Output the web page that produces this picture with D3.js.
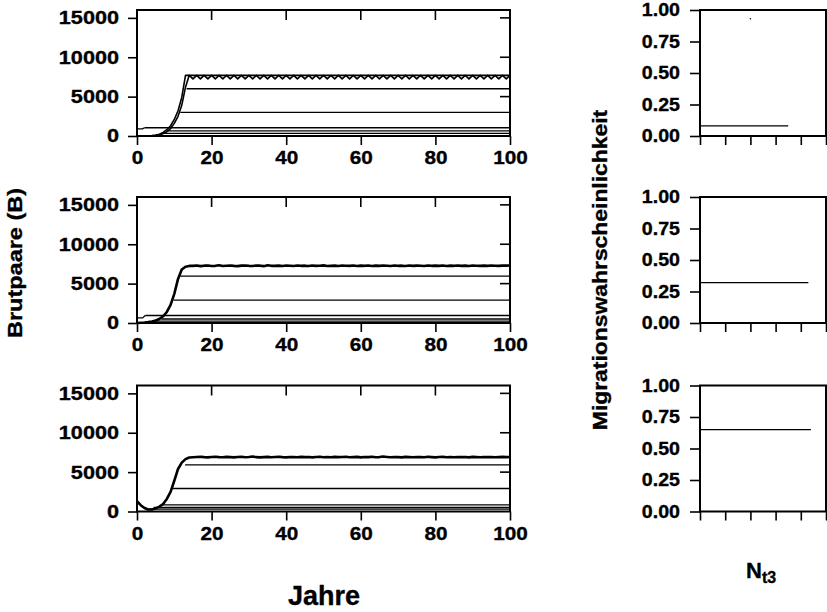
<!DOCTYPE html>
<html>
<head>
<meta charset="utf-8">
<script src="https://cdnjs.cloudflare.com/ajax/libs/d3/7.8.5/d3.min.js"></script>
<style>
  body { margin: 0; background: #fff; }
  svg text { font-family: "Liberation Sans", Arial, sans-serif; font-weight: bold; fill: #000; stroke: #000; stroke-width: 0.35px; }
</style>
</head>
<body>
<div class="chart"></div>
<script>
const width = 827;
const height = 612;

// ---- data ----
const yearTicks = [0, 20, 40, 60, 80, 100];
const brutTicks = [0, 5000, 10000, 15000];
const probTicks = [0, 0.25, 0.5, 0.75, 1];
const nTicks = [0, 1, 2, 3, 4, 5];

// panel 1: two traces of the total, one flat, one oscillating every year
const p1RiseA = [0, 0, 10, 30, 60, 120, 230, 450, 800, 1300, 2100, 3200, 4900, 7700]; // years 0..13
const p1FlatA = [7700, 7700]; // years 13 and 100
const p1RiseB = [0, 0, 0, 10, 30, 60, 150, 300, 550, 950, 1600, 2500, 3900, 6200]; // years 0..13
const p1Zigzag = [7700, 7250, 7700, 7250, 7700, 7250, 7700, 7250, 7700, 7250,
  7700, 7250, 7700, 7250, 7700, 7250, 7700, 7250, 7700, 7250,
  7700, 7250, 7700, 7250, 7700, 7250, 7700, 7250, 7700, 7250,
  7700, 7250, 7700, 7250, 7700, 7250, 7700, 7250, 7700, 7250,
  7700, 7250, 7700, 7250, 7700, 7250, 7700, 7250, 7700, 7250,
  7700, 7250, 7700, 7250, 7700, 7250, 7700, 7250, 7700, 7250,
  7700, 7250, 7700, 7250, 7700, 7250, 7700, 7250, 7700, 7250,
  7700, 7250, 7700, 7250, 7700, 7250, 7700, 7250, 7700, 7250,
  7700, 7250, 7700, 7250, 7700, 7250, 7700]; // years 14..100
const p1Levels = [6000, 3000, 1050, 650, 330];
const p1LevelFrom = [13.3, 11.6, 2, 8.2, 6.8];
const p1StartYears = [0, 1.5, 2];
const p1StartVals = [900, 900, 1050];

// panel 2
const p2Rise = [0, 30, 60, 120, 200, 320, 500, 850, 1400, 2300, 3700, 5600, 6800, 7150, 7250]; // years 0..14
const p2Wiggle = [7250, 7300, 7220, 7280, 7310, 7240, 7260, 7330, 7230, 7270,
  7300, 7250, 7220, 7290, 7310, 7260, 7240, 7300, 7280, 7220,
  7330, 7260, 7250, 7290, 7230, 7300, 7270, 7240, 7310, 7260,
  7280, 7230, 7300, 7250, 7270, 7320, 7240, 7260, 7290, 7230,
  7300, 7270, 7250, 7310, 7240, 7280, 7260, 7300, 7230, 7290,
  7250, 7310, 7270, 7240, 7300, 7260, 7280, 7230, 7300, 7250,
  7290, 7270, 7240, 7310, 7260, 7280, 7250, 7300, 7240, 7290,
  7260, 7310, 7250, 7280, 7240, 7300, 7270, 7260, 7290, 7250,
  7300, 7270, 7260, 7290, 7280, 7300]; // years 15..100
const p2Levels = [5950, 2900, 950, 510, 250];
const p2LevelFrom = [11.6, 9.8, 2.2, 6.5, 4.5];
const p2StartYears = [0, 1.5, 2.2];
const p2StartVals = [650, 650, 950];

// panel 3
const p3Rise = [1300, 800, 450, 250, 250, 400, 620, 950, 1600, 2500, 3900, 5400, 6200, 6650, 6850]; // years 0..14
const p3Wiggle = [6880, 6920, 6950, 6900, 6870, 6930, 6960, 6910, 6880, 6940,
  6900, 6870, 6930, 6960, 6890, 6920, 6980, 6900, 6870, 6910,
  6940, 6880, 6920, 6950, 6900, 6870, 6930, 6910, 6880, 6940,
  6900, 6920, 6870, 6930, 6950, 6890, 6910, 6880, 6940, 6900,
  6920, 6960, 6880, 6910, 6940, 6870, 6920, 6900, 6950, 6890,
  6910, 6990, 6930, 6880, 6920, 6900, 6870, 6940, 6910, 6890,
  6930, 6900, 6880, 6950, 6910, 6870, 6920, 6940, 6890, 6910,
  6880, 6930, 6900, 6920, 6870, 6940, 6910, 6890, 6930, 6900,
  6920, 6880, 6910, 6940, 6900, 6920]; // years 15..100
const p3Levels = [5930, 2920, 850, 510, 300];
const p3LevelFrom = [12.9, 9.5, 6.5, 4.5, 3.2];

// right column: migration probability vs N_t3
const migProb = [0.08, 0.32, 0.65];
const migUntil = [3.5, 4.3, 4.4];
const strayDot = [2, 0.93];

// ---- helpers ----
const toPts = (vals, start) => vals.map((v, i) => [start + i, v]);

const svg = d3.select(".chart").append("svg")
  .attr("width", width).attr("height", height);

const rows = [{ top: 10, bottom: 136 }, { top: 197, bottom: 323 }, { top: 385.5, bottom: 511.5 }];
const x = d3.scaleLinear().domain([0, 100]).range([137, 510]);
const xN = d3.scaleLinear().domain([0, 5]).range([700, 826]);

function stretch(sel, k) {
  // widen the tick labels like the original lettering
  sel.selectAll("text").each(function () {
    const t = d3.select(this);
    t.attr("x", (+t.attr("x") || 0) / k).attr("transform", `scale(${k},1)`);
  });
}

function styleAxis(g) {
  g.select(".domain").remove();
  g.selectAll(".tick line").attr("stroke", "#000").attr("stroke-width", 1.6);
  g.selectAll(".tick text").attr("font-size", 18.5).attr("font-family", null);
}

const seriesList = [
  {
    thick: [],
    thin2: [
      toPts(p1RiseA, 0).concat([[13, p1FlatA[0]], [100, p1FlatA[1]]]),
      toPts(p1RiseB, 0).concat(toPts(p1Zigzag, 14))
    ],
    levels: p1Levels, from: p1LevelFrom,
    start: p1StartYears.map((yr, i) => [yr, p1StartVals[i]])
  },
  {
    thick: [toPts(p2Rise, 0).concat(toPts(p2Wiggle, 15))],
    thin2: [],
    levels: p2Levels, from: p2LevelFrom,
    start: p2StartYears.map((yr, i) => [yr, p2StartVals[i]])
  },
  {
    thick: [toPts(p3Rise, 0).concat(toPts(p3Wiggle, 15))],
    thin2: [],
    levels: p3Levels, from: p3LevelFrom,
    start: null
  }
];

rows.forEach((r, i) => {
  const y = d3.scaleLinear().domain([0, 16000]).range([r.bottom, r.top]);
  const g = svg.append("g");
  const line = d3.line().x(d => x(d[0])).y(d => y(d[1]));
  const s = seriesList[i];

  // horizontal levels
  s.levels.forEach((lv, j) => {
    g.append("path").attr("d", line([[s.from[j], lv], [100, lv]]))
      .attr("fill", "none").attr("stroke", "#000").attr("stroke-width", 1.3);
  });
  if (s.start) {
    g.append("path").attr("d", line(s.start))
      .attr("fill", "none").attr("stroke", "#000").attr("stroke-width", 1.3);
  }
  s.thin2.forEach(pts => {
    g.append("path").attr("d", line(pts))
      .attr("fill", "none").attr("stroke", "#000").attr("stroke-width", 1.6)
      .attr("stroke-linejoin", "round");
  });
  s.thick.forEach(pts => {
    g.append("path").attr("d", line(pts))
      .attr("fill", "none").attr("stroke", "#000").attr("stroke-width", 2.6)
      .attr("stroke-linejoin", "round");
  });

  // frame
  g.append("rect").attr("x", x(0)).attr("y", r.top)
    .attr("width", x(100) - x(0)).attr("height", r.bottom - r.top)
    .attr("fill", "none").attr("stroke", "#000").attr("stroke-width", 2);

  // inside ticks on top and right
  yearTicks.slice(1, -1).forEach(t => {
    g.append("line").attr("x1", x(t)).attr("x2", x(t)).attr("y1", r.top).attr("y2", r.top + 10)
      .attr("stroke", "#000").attr("stroke-width", 1.6);
  });
  brutTicks.slice(1).forEach(t => {
    g.append("line").attr("x1", x(100) - 10).attr("x2", x(100)).attr("y1", y(t)).attr("y2", y(t))
      .attr("stroke", "#000").attr("stroke-width", 1.6);
  });

  const ax = g.append("g").attr("transform", `translate(0,${r.bottom})`)
    .call(d3.axisBottom(x).tickValues(yearTicks).tickSize(9).tickPadding(6).tickSizeOuter(0));
  styleAxis(ax);
  stretch(ax, 1.12);

  const ay = g.append("g").attr("transform", `translate(${x(0)},0)`)
    .call(d3.axisLeft(y).tickValues(brutTicks).tickSize(9).tickPadding(9)
      .tickFormat(d3.format("d")).tickSizeOuter(0));
  styleAxis(ay);
  stretch(ay, 1.17);

  // right column
  const yp = d3.scaleLinear().domain([0, 1]).range([r.bottom, r.top]);
  const gr = svg.append("g");
  gr.append("path")
    .attr("d", d3.line().x(d => xN(d[0])).y(d => yp(d[1]))([[0, migProb[i]], [migUntil[i], migProb[i]]]))
    .attr("fill", "none").attr("stroke", "#000").attr("stroke-width", 1.3);
  if (i === 0) {
    gr.append("circle").attr("cx", xN(strayDot[0])).attr("cy", yp(strayDot[1])).attr("r", 0.8).attr("fill", "#000");
  }
  gr.append("rect").attr("x", xN(0)).attr("y", r.top)
    .attr("width", xN(5) - xN(0)).attr("height", r.bottom - r.top)
    .attr("fill", "none").attr("stroke", "#000").attr("stroke-width", 2);
  const bx = gr.append("g").attr("transform", `translate(0,${r.bottom})`)
    .call(d3.axisBottom(xN).tickValues(nTicks).tickSize(9).tickFormat("").tickSizeOuter(0));
  styleAxis(bx);
  const by = gr.append("g").attr("transform", `translate(${xN(0)},0)`)
    .call(d3.axisLeft(yp).tickValues(probTicks).tickSize(10).tickPadding(10)
      .tickFormat(d3.format(".2f")).tickSizeOuter(0));
  styleAxis(by);
  stretch(by, 1.06);
});

// axis titles
svg.append("text").attr("transform", "translate(22,263) rotate(-90) scale(1.12,1)")
  .attr("text-anchor", "middle").attr("font-size", 21).text("Brutpaare (B)");
svg.append("text").attr("transform", "translate(607,270) rotate(-90) scale(1.09,1)")
  .attr("text-anchor", "middle").attr("font-size", 21).text("Migrationswahrscheinlichkeit");
svg.append("text").attr("x", 324).attr("y", 605)
  .attr("text-anchor", "middle").attr("font-size", 27).text("Jahre");
const nt = svg.append("text").attr("x", 746).attr("y", 578).attr("font-size", 22);
nt.append("tspan").text("N");
nt.append("tspan").attr("font-size", 16).attr("dy", 5).text("t3");
</script>
</body>
</html>
